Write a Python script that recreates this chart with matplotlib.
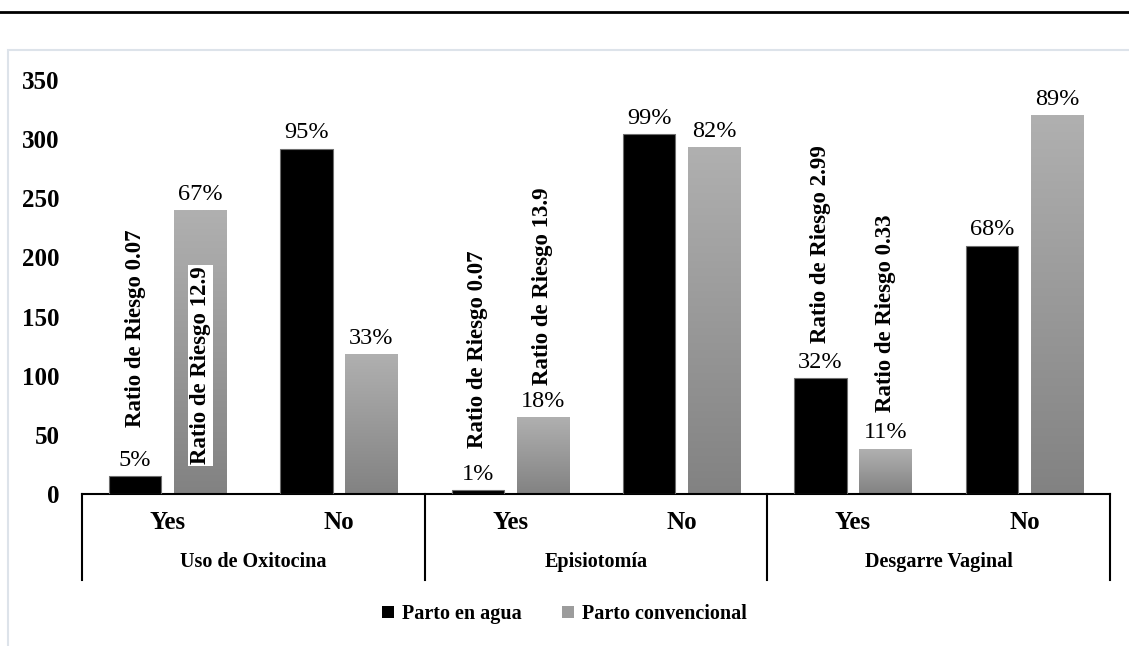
import numpy as np
import matplotlib
matplotlib.use("Agg")
import matplotlib.pyplot as plt
from matplotlib.colors import LinearSegmentedColormap
from matplotlib.patches import Rectangle, Patch
from matplotlib.lines import Line2D

# data
groups = ["Uso de Oxitocina", "Episiotomía", "Desgarre Vaginal"]
answers = ["Yes", "No"]
agua = [15, 292, 3, 304, 98, 210]
convencional = [240, 118, 65, 293, 38, 320]
agua_pct = ["5%", "95%", "1%", "99%", "32%", "68%"]
conv_pct = ["67%", "33%", "18%", "82%", "11%", "89%"]
# risk ratio notes: (category index, series, text, y of text bottom)
ratio_notes = [
    (0, "agua", "Ratio de Riesgo 0.07", 57),
    (0, "conv", "Ratio de Riesgo 12.9", 25),
    (2, "agua", "Ratio de Riesgo 0.07", 39),
    (2, "conv", "Ratio de Riesgo 13.9", 92),
    (4, "agua", "Ratio de Riesgo 2.99", 128),
    (4, "conv", "Ratio de Riesgo 0.33", 69),
]

plt.rcParams['font.family'] = ['Liberation Serif', 'DejaVu Serif']

fig = plt.figure(figsize=(11.29, 6.46), dpi=100)
ax = fig.add_axes([82/1129, 1 - 494/646, (1110 - 82)/1129, (494 - 80)/646])

x = np.arange(len(agua))
w = 0.305
off = 0.19

b1 = ax.bar(x - off, agua, w, color="black", edgecolor="#6e6e6e", linewidth=0.8, zorder=3)
b2 = ax.bar(x + off, convencional, w, color="none", edgecolor="none", zorder=3)

ax.set_xlim(-0.5, len(agua) - 0.5)
ax.set_ylim(0, 350)

# gradient fill for the conventional bars
grad_cmap = LinearSegmentedColormap.from_list("g", ["#828282", "#b0b0b0"])
grad = np.linspace(0, 1, 256).reshape(-1, 1)
for p in b2:
    ax.imshow(grad, cmap=grad_cmap, origin="lower", aspect="auto", zorder=2,
              extent=[p.get_x(), p.get_x() + p.get_width(), 0, p.get_height()])
ax.set_xlim(-0.5, len(agua) - 0.5)
ax.set_ylim(0, 350)

ax.bar_label(b1, labels=agua_pct, padding=4, fontsize=17.5)
ax.bar_label(b2, labels=conv_pct, padding=4, fontsize=17.5)

for i, series, txt, ybot in ratio_notes:
    xx = i - off if series == "agua" else i + off
    ax.text(xx, ybot, txt, rotation=90, ha="center", va="bottom",
            fontsize=16.5, fontweight="bold", zorder=5,
            bbox=dict(facecolor="white", edgecolor="none", pad=1.5))

# axes styling
for s in ["top", "right", "left"]:
    ax.spines[s].set_visible(False)
ax.spines["bottom"].set_linewidth(1.5)
ax.set_yticks(np.arange(0, 351, 50))
ax.tick_params(axis="y", length=0, pad=16, labelsize=18)
for lab in ax.get_yticklabels():
    lab.set_fontweight("bold")
ax.set_xticks([])

# two-level category axis
trans = ax.get_xaxis_transform()
for xs in [-0.5, 1.5, 3.5, 5.5]:
    ax.plot([xs, xs], [0, -0.208], color="black", lw=1.5, transform=trans, clip_on=False)
for i in x:
    ax.text(i, -0.068, answers[i % 2], transform=trans, ha="center", va="center",
            fontsize=18, fontweight="bold")
for g, name in enumerate(groups):
    ax.text(2 * g + 0.5, -0.165, name, transform=trans, ha="center", va="center",
            fontsize=14.5, fontweight="bold")

handles = [Patch(facecolor="black"), Patch(facecolor="#9c9c9c")]
fig.legend(handles, ["Parto en agua", "Parto convencional"], loc="center",
           bbox_to_anchor=(0.5, 1 - 614/646), ncol=2, frameon=False,
           handlelength=0.6, handleheight=0.6, handletextpad=0.4, columnspacing=2.0,
           prop={"size": 14.5, "weight": "bold"})

# chart frame and top rule
fig.add_artist(Rectangle((8/1129, -0.05), 1.2, 1 - 50/646 + 0.05, transform=fig.transFigure,
                         facecolor="none", edgecolor="#dde3ea", lw=1.5))
fig.add_artist(Line2D([0, 1], [1 - 12/646, 1 - 12/646], transform=fig.transFigure,
                      color="black", lw=2))

fig.savefig("out.png", dpi=100)
